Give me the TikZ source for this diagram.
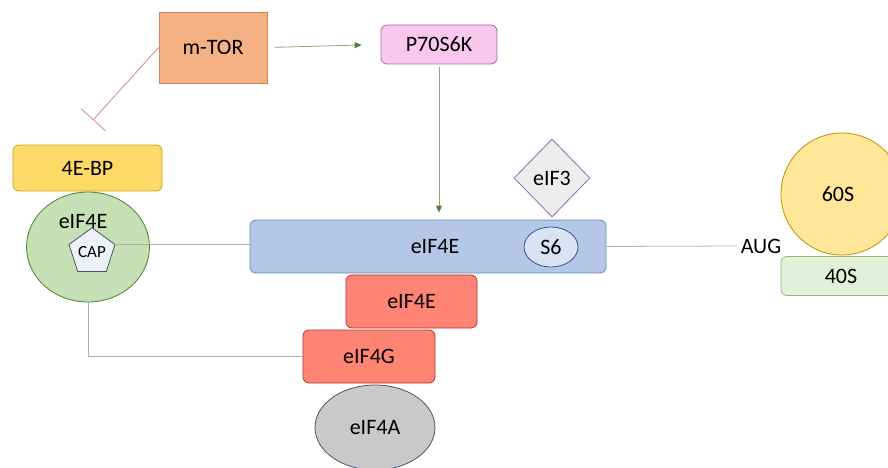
\documentclass[tikz,border=0pt]{standalone}
\usepackage{fontspec}
\setmainfont{Carlito}
\usetikzlibrary{shapes.geometric,arrows.meta}

\definecolor{mtorfill}{HTML}{F4B183}
\definecolor{mtorline}{HTML}{D9834F}
\definecolor{pinkfill}{HTML}{F9C8EC}
\definecolor{pinkline}{HTML}{9C6FA8}
\definecolor{yellowfill}{HTML}{FFD966}
\definecolor{yellowline}{HTML}{C9A227}
\definecolor{greenfill}{HTML}{C5E0B4}
\definecolor{greenline}{HTML}{507E32}
\definecolor{capfill}{HTML}{EEF2F8}
\definecolor{slateline}{HTML}{44546A}
\definecolor{bluefill}{HTML}{B4C7E7}
\definecolor{blueline}{HTML}{6C8EBF}
\definecolor{s6fill}{HTML}{DAE3F3}
\definecolor{s6line}{HTML}{2F5597}
\definecolor{greyfill}{HTML}{EDEDED}
\definecolor{purpleline}{HTML}{8E6BAF}
\definecolor{sixtyfill}{HTML}{FFE699}
\definecolor{sixtyline}{HTML}{BF9000}
\definecolor{fortyfill}{HTML}{E2F0D9}
\definecolor{fortyline}{HTML}{8FB873}
\definecolor{redfill}{HTML}{FF8474}
\definecolor{redline}{HTML}{B03A2E}
\definecolor{afill}{HTML}{C9C9C9}
\definecolor{actline}{HTML}{8FA878}
\definecolor{acttip}{HTML}{548235}
\definecolor{inhline}{HTML}{C98A95}
\definecolor{linkline}{HTML}{B0B0A8}
\definecolor{augline}{HTML}{A8B8C8}

\tikzset{
  sqbox/.style={draw, line width=0.8pt, inner sep=0pt},
  rbox/.style={draw, line width=0.8pt, rounded corners=6pt, inner sep=0pt},
  oval/.style={ellipse, draw, line width=0.8pt, inner sep=0pt},
  link/.style={draw=linkline, line width=0.8pt},
  act/.style={draw=actline, line width=0.8pt, -{Triangle[length=7pt, width=6pt, color=acttip]}},
  inh/.style={draw=inhline, line width=0.8pt, -{Bar[width=33pt]}}
}

\begin{document}
\begin{tikzpicture}[x=1pt, y=-1pt, every node/.style={font=\fontsize{22}{25}\selectfont}]
    \useasboundingbox (0,0) rectangle (888,468);

    % signalling
    \node[sqbox, fill=mtorfill, draw=mtorline, minimum width=108, minimum height=71] (mtor) at (213,47.5) {m-TOR};
    \node[rbox, fill=pinkfill, draw=pinkline, minimum width=116, minimum height=39] (p70) at (439,44.5) {P70S6K};
    \coordinate (inhend) at (93,120);

    % cap binding
    \node[rbox, fill=yellowfill, draw=yellowline, minimum width=149, minimum height=46] (bp) at (87.5,168) {4E-BP};
    \node[oval, fill=greenfill, draw=greenline, minimum width=123, minimum height=110] (c4e) at (88,247) {};
    \node (c4etxt) at (83,222) {eIF4E};
    \node[regular polygon, regular polygon sides=5, draw=slateline, fill=capfill, line width=0.8pt,
          minimum size=41, inner sep=0pt, font=\fontsize{17}{20}\selectfont] (cap) at (92,252) {CAP};

    % initiation complex
    \node[rbox, fill=bluefill, draw=blueline, minimum width=356, minimum height=53] (blue) at (428,246.5) {\hspace*{14pt}eIF4E};
    \node[oval, fill=s6fill, draw=s6line, minimum width=54, minimum height=40] (s6) at (551,247) {S6};
    \node[diamond, aspect=1, draw=purpleline, fill=greyfill, line width=0.8pt, inner sep=0pt,
          minimum width=76, minimum height=78] (eif3) at (552,178) {eIF3};
    \node[rbox, fill=redfill, draw=redline, minimum width=131, minimum height=53] (eif4e) at (411.5,301.5) {eIF4E};
    \node[rbox, fill=redfill, draw=redline, minimum width=132, minimum height=53] (eif4g) at (369,356.5) {eIF4G};
    \node[oval, fill=afill, draw=slateline, minimum width=120, minimum height=85] (eif4a) at (375,427.5) {eIF4A};

    % ribosome
    \node (aug) at (761,246) {AUG};
    \node[oval, fill=sixtyfill, draw=sixtyline, minimum width=122, minimum height=122] (s60) at (842,194) {\hspace*{-8pt}60S};
    \node[rbox, fill=fortyfill, draw=fortyline, minimum width=124, minimum height=39] (s40) at (843,276) {\hspace*{-4pt}40S};

    % connectors
    \draw[act, shorten <=7pt, shorten >=19pt] (mtor.east) -- (p70.west);
    \draw[act, shorten <=3pt, shorten >=7pt] (p70.south) -- (p70.south |- blue.north);
    \draw[inh] (mtor.west) -- (inhend);
    \draw[link] (cap.corner 5) -- (cap.corner 5 -| blue.west);
    \draw[link, draw=augline] (blue.east) -- (aug.west);
    \draw[link] (c4e.south) |- (eif4g.west);
\end{tikzpicture}
\end{document}
